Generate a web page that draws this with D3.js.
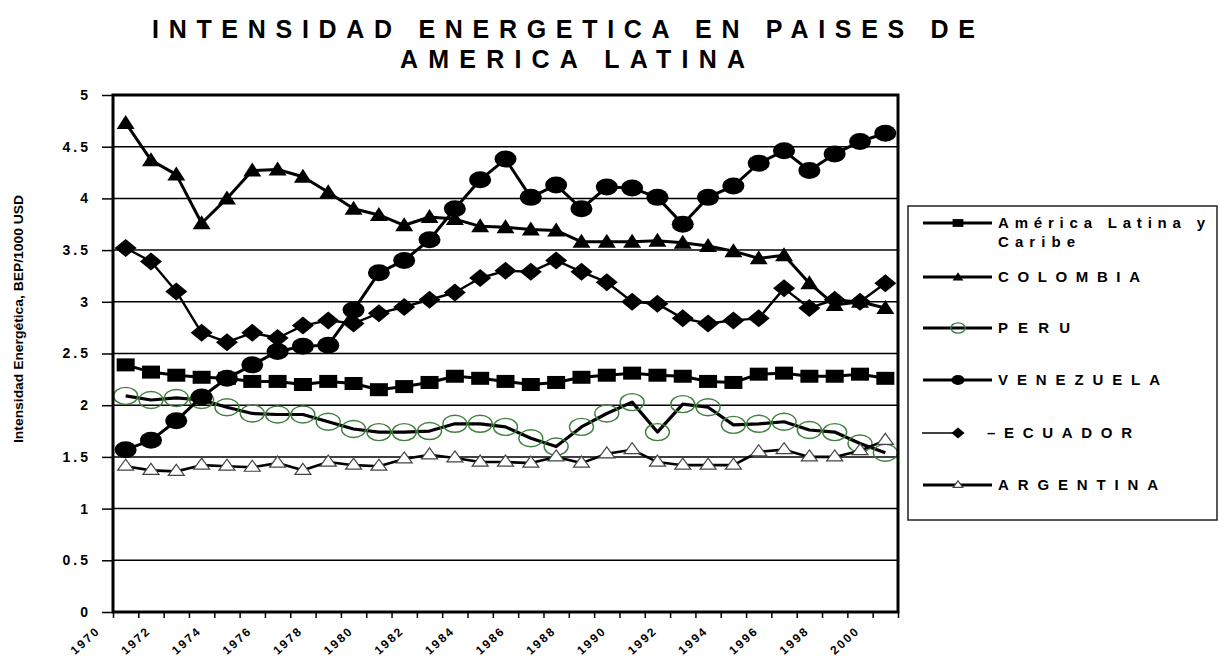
<!DOCTYPE html>
<html>
<head>
<meta charset="utf-8">
<script src="https://cdn.jsdelivr.net/npm/d3@7"></script>
<style>
  body { margin: 0; background: #fff; }
  text { font-family: 'Liberation Sans', Arial, sans-serif; fill: #000; }
</style>
</head>
<body>
<div id="chart"></div>
<script>
// categories (one per year) and the labelled years on the axis
const years = [1971, 1972, 1973, 1974, 1975, 1976, 1977, 1978, 1979, 1980,
  1981, 1982, 1983, 1984, 1985, 1986, 1987, 1988, 1989, 1990,
  1991, 1992, 1993, 1994, 1995, 1996, 1997, 1998, 1999, 2000, 2001];
const labelYears = [1970, 1972, 1974, 1976, 1978, 1980, 1982, 1984,
  1986, 1988, 1990, 1992, 1994, 1996, 1998, 2000];
const yTicks = [0, 0.5, 1, 1.5, 2, 2.5, 3, 3.5, 4, 4.5, 5];

// BEP / 1000 USD
const americaLatina = [2.39, 2.32, 2.29, 2.27, 2.26, 2.23, 2.23, 2.20, 2.23, 2.21,
  2.15, 2.18, 2.22, 2.28, 2.26, 2.23, 2.20, 2.22, 2.27, 2.29,
  2.31, 2.29, 2.28, 2.23, 2.22, 2.30, 2.31, 2.28, 2.28, 2.30, 2.26];
const colombia = [4.73, 4.37, 4.23, 3.76, 4.00, 4.27, 4.28, 4.21, 4.06, 3.90,
  3.84, 3.74, 3.82, 3.80, 3.73, 3.72, 3.70, 3.69, 3.58, 3.58,
  3.58, 3.59, 3.57, 3.54, 3.49, 3.42, 3.45, 3.18, 2.97, 3.00, 2.94];
const peru = [2.09, 2.05, 2.07, 2.05, 1.98, 1.92, 1.91, 1.91, 1.84, 1.77,
  1.74, 1.74, 1.75, 1.82, 1.82, 1.79, 1.68, 1.60, 1.79, 1.92,
  2.03, 1.74, 2.01, 1.98, 1.81, 1.82, 1.84, 1.76, 1.74, 1.63, 1.54];
const venezuela = [1.57, 1.66, 1.85, 2.08, 2.26, 2.39, 2.52, 2.57, 2.58, 2.92,
  3.28, 3.40, 3.60, 3.90, 4.18, 4.38, 4.01, 4.13, 3.90, 4.11,
  4.10, 4.01, 3.75, 4.01, 4.12, 4.34, 4.46, 4.27, 4.43, 4.55, 4.63];
const ecuador = [3.52, 3.39, 3.10, 2.70, 2.61, 2.70, 2.65, 2.77, 2.82, 2.79,
  2.89, 2.95, 3.02, 3.09, 3.23, 3.30, 3.29, 3.40, 3.29, 3.19,
  3.00, 2.98, 2.84, 2.79, 2.82, 2.84, 3.13, 2.94, 3.02, 3.00, 3.18];
const argentina = [1.41, 1.37, 1.36, 1.42, 1.41, 1.40, 1.44, 1.37, 1.45, 1.42,
  1.41, 1.48, 1.52, 1.49, 1.45, 1.45, 1.44, 1.50, 1.44, 1.53,
  1.57, 1.45, 1.42, 1.42, 1.42, 1.55, 1.57, 1.50, 1.50, 1.56, 1.66];

const width = 1219;
const height = 662;
const plot = { left: 113, right: 898, top: 95, bottom: 612 };

const GREEN = '#3f7f3f';

// marker painters: draw one marker centred at 0,0 into g, with size factor k
const markers = {
  square: (g, k) => g.append('rect')
    .attr('x', -9 * k).attr('y', -6.5 * k).attr('width', 18 * k).attr('height', 13 * k)
    .attr('fill', '#000'),
  triangle: (g, k) => g.append('path')
    .attr('d', `M0,${-8 * k} L${9 * k},${6 * k} L${-9 * k},${6 * k} Z`)
    .attr('fill', '#000'),
  ring: (g, k) => g.append('ellipse')
    .attr('rx', 12 * k).attr('ry', 8.5 * k)
    .attr('fill', 'none').attr('stroke', GREEN).attr('stroke-width', 1.4),
  dot: (g, k) => g.append('ellipse')
    .attr('rx', 11 * k).attr('ry', 8.5 * k)
    .attr('fill', '#000'),
  diamond: (g, k) => g.append('path')
    .attr('d', `M0,${-9 * k} L${11 * k},0 L0,${9 * k} L${-11 * k},0 Z`)
    .attr('fill', '#000'),
  hollowTri: (g, k) => g.append('path')
    .attr('d', `M0,${-7 * k} L${8 * k},${4 * k} L${-8 * k},${4 * k} Z`)
    .attr('fill', '#fff').attr('stroke', '#444').attr('stroke-width', 1.2)
};

const series = [
  { name: 'América Latina y', name2: 'Caribe', values: americaLatina, marker: 'square', lw: 3 },
  { name: 'COLOMBIA', values: colombia, marker: 'triangle', lw: 3 },
  { name: 'PERU', values: peru, marker: 'ring', lw: 3.2 },
  { name: 'VENEZUELA', values: venezuela, marker: 'dot', lw: 3 },
  { name: '–ECUADOR', values: ecuador, marker: 'diamond', lw: 2.4, thin: true },
  { name: 'ARGENTINA', values: argentina, marker: 'hollowTri', lw: 2.6 }
];

const svg = d3.select('#chart').append('svg')
  .attr('width', width)
  .attr('height', height);

// category axis: one band per year, points at band centres
const x = d3.scaleLinear()
  .domain([years[0] - 0.5, years[years.length - 1] + 0.5])
  .range([plot.left, plot.right]);
const y = d3.scaleLinear()
  .domain([0, 5])
  .range([plot.bottom, plot.top]);

// title
const title = svg.append('g');
title.append('text')
  .attr('x', 152).attr('y', 38)
  .style('font-size', '25px').style('font-weight', 'bold')
  .attr('textLength', 823).attr('lengthAdjust', 'spacing')
  .text('INTENSIDAD ENERGETICA EN PAISES DE');
title.append('text')
  .attr('x', 400).attr('y', 68)
  .style('font-size', '25px').style('font-weight', 'bold')
  .attr('textLength', 345).attr('lengthAdjust', 'spacing')
  .text('AMERICA LATINA');

// gridlines
svg.append('g')
  .selectAll('line')
  .data(yTicks.filter(d => d > 0 && d < 5))
  .join('line')
  .attr('x1', plot.left).attr('x2', plot.right)
  .attr('y1', d => y(d)).attr('y2', d => y(d))
  .attr('stroke', '#000').attr('stroke-width', 1.5);

// y axis
const yAxis = svg.append('g')
  .attr('transform', `translate(${plot.left},0)`)
  .call(d3.axisLeft(y).tickValues(yTicks).tickSize(11).tickPadding(11)
    .tickFormat(d => String(d)));
yAxis.select('.domain').remove();
yAxis.selectAll('line').attr('stroke-width', 1.5);
yAxis.selectAll('text')
  .attr('font-size', 14).attr('font-weight', 'bold')
  .attr('letter-spacing', 3)
  .attr('font-family', "'Liberation Sans', Arial, sans-serif");

// x axis: tick marks between categories
const boundaries = years.map(d => d - 0.5).concat([years[years.length - 1] + 0.5]);
const xTicks = svg.append('g')
  .attr('transform', `translate(0,${plot.bottom})`)
  .call(d3.axisBottom(x).tickValues(boundaries).tickSize(6).tickFormat(''));
xTicks.select('.domain').remove();
xTicks.selectAll('line').attr('stroke-width', 1.5);

// x labels, every second year, rotated
const xLabels = svg.append('g')
  .attr('transform', `translate(0,${plot.bottom})`)
  .call(d3.axisBottom(x).tickValues(labelYears).tickSize(0).tickFormat(d3.format('d')));
xLabels.select('.domain').remove();
xLabels.selectAll('text')
  .attr('font-size', 12).attr('font-weight', 'bold')
  .attr('letter-spacing', 2)
  .attr('font-family', "'Liberation Sans', Arial, sans-serif")
  .attr('text-anchor', 'end')
  .attr('x', 0).attr('y', 0).attr('dy', null)
  .attr('transform', 'translate(0,20) rotate(-42)');

// y axis title
svg.append('text')
  .attr('transform', 'translate(23,319) rotate(-90)')
  .attr('text-anchor', 'middle')
  .attr('font-size', 12).attr('font-weight', 'bold')
  .attr('textLength', 248).attr('lengthAdjust', 'spacingAndGlyphs')
  .text('Intensidad Energética, BEP/1000 USD');

// series lines and markers
const line = d3.line()
  .x((d, i) => x(years[i]))
  .y(d => y(d));

const seriesG = svg.append('g')
  .selectAll('g')
  .data(series)
  .join('g');

seriesG.append('path')
  .attr('d', d => line(d.values))
  .attr('fill', 'none')
  .attr('stroke', '#000')
  .attr('stroke-width', d => d.lw)
  .attr('stroke-linejoin', 'round');

seriesG.each(function (s) {
  d3.select(this).selectAll('g.mk')
    .data(s.values)
    .join('g')
    .attr('class', 'mk')
    .attr('transform', (d, i) => `translate(${x(years[i])},${y(d)})`)
    .each(function () { markers[s.marker](d3.select(this), 1); });
});

// plot frame
svg.append('rect')
  .attr('x', plot.left).attr('y', plot.top)
  .attr('width', plot.right - plot.left).attr('height', plot.bottom - plot.top)
  .attr('fill', 'none').attr('stroke', '#000').attr('stroke-width', 3);

// legend
const legend = svg.append('g');
legend.append('rect')
  .attr('x', 908).attr('y', 206).attr('width', 309).attr('height', 314)
  .attr('fill', '#fff').attr('stroke', '#222').attr('stroke-width', 1.5);

const legendRows = [223, 277, 328, 380, 433, 485];
const legendWidths = [207, 142, 72, 162, 145, 160];

const items = legend.selectAll('g.item')
  .data(series)
  .join('g')
  .attr('class', 'item')
  .attr('transform', (d, i) => `translate(0,${legendRows[i]})`);

items.append('line')
  .attr('x1', d => d.thin ? 922 : 923)
  .attr('x2', d => d.thin ? 958 : 992)
  .attr('stroke', '#000')
  .attr('stroke-width', d => d.thin ? 1.5 : 3);

items.append('g')
  .attr('transform', 'translate(958,0)')
  .each(function (s) { markers[s.marker](d3.select(this), 0.6); });

items.append('text')
  .attr('x', d => d.thin ? 987 : 998)
  .attr('y', 5)
  .style('font-size', '15px').style('font-weight', 'bold')
  .attr('textLength', (d, i) => legendWidths[i]).attr('lengthAdjust', 'spacing')
  .text(d => d.name);

items.filter(d => d.name2)
  .append('text')
  .attr('x', 998).attr('y', 24)
  .style('font-size', '15px').style('font-weight', 'bold')
  .attr('textLength', 77).attr('lengthAdjust', 'spacing')
  .text(d => d.name2);
</script>
</body>
</html>
